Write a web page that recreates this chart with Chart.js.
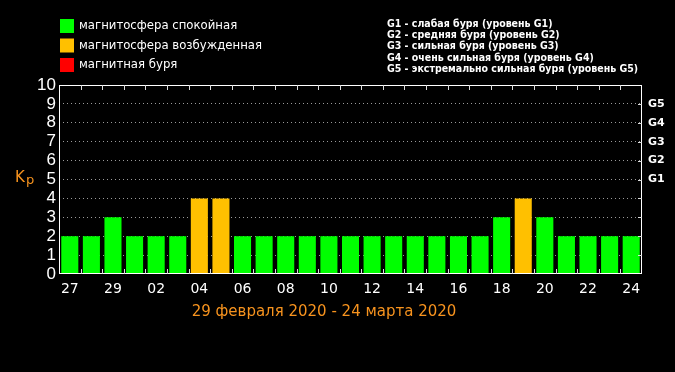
<!DOCTYPE html>
<html>
<head>
<meta charset="utf-8">
<script src="https://cdn.jsdelivr.net/npm/chart.js@4/dist/chart.umd.min.js"></script>
<style>
  html, body { margin: 0; padding: 0; background: #000; }
  #wrap { width: 675px; height: 372px; }
</style>
</head>
<body>
<div id="wrap"><canvas id="kpChart" width="675" height="372"></canvas></div>
<script>
// 29 Feb - 24 Mar 2020, daily Kp
var days = ["27", "28", "29", "01", "02", "03", "04", "05", "06", "07", "08", "09", "10", "11",
            "12", "13", "14", "15", "16", "17", "18", "19", "20", "21", "22", "23", "24"];
var kpValues = [2, 2, 3, 2, 2, 2, 4, 4, 2, 2, 2, 2, 2, 2, 2, 2, 2, 2, 2, 2, 3, 4, 3, 2, 2, 2, 2];
var yTicks = [0, 1, 2, 3, 4, 5, 6, 7, 8, 9, 10];
var gLevels = ["G1", "G2", "G3", "G4", "G5"];
var legendLeft = ["магнитосфера спокойная", "магнитосфера возбужденная", "магнитная буря"];
var legendRight = [
    "G1 - слабая буря (уровень G1)",
    "G2 - средняя буря (уровень G2)",
    "G3 - сильная буря (уровень G3)",
    "G4 - очень сильная буря (уровень G4)",
    "G5 - экстремально сильная буря (уровень G5)"
];
var title = "29 февраля 2020 - 24 марта 2020";

var GREEN = "#00ff00", YELLOW = "#ffc000", RED = "#ff0000", ORANGE = "#f7931e";
var legendColors = [GREEN, YELLOW, RED];

function kpColor(v) {
    if (v >= 5) return RED;
    if (v >= 4) return YELLOW;
    return GREEN;
}

var decor = {
    id: "decor",
    afterDraw: function (chart) {
        var ctx = chart.ctx;
        var a = chart.chartArea;
        var xs = chart.scales.x, ys = chart.scales.y;
        ctx.save();

        // frame
        ctx.strokeStyle = "#ffffff";
        ctx.lineWidth = 1;
        ctx.strokeRect(Math.round(a.left) + 0.5, Math.round(a.top) + 0.5,
            Math.round(a.right - a.left) - 1, Math.round(a.bottom - a.top) - 1);

        // inward ticks on top and bottom at category boundaries
        var step = (a.right - a.left) / days.length;
        ctx.strokeStyle = "#dddddd";
        ctx.beginPath();
        for (var i = 1; i < days.length; i++) {
            var x = Math.round(xs.getPixelForValue(i) - step / 2) + 0.5;
            ctx.moveTo(x, a.top); ctx.lineTo(x, a.top + 5);
            ctx.moveTo(x, a.bottom); ctx.lineTo(x, a.bottom - 5);
        }
        // inward ticks on right side
        for (var k = 1; k < 10; k++) {
            var y = Math.round(ys.getPixelForValue(k)) + 0.5;
            ctx.moveTo(a.right, y); ctx.lineTo(a.right - 4, y);
        }
        ctx.stroke();

        // G levels on the right
        ctx.fillStyle = "#ffffff";
        ctx.font = "bold 11px 'DejaVu Sans'";
        ctx.textAlign = "left";
        ctx.textBaseline = "middle";
        gLevels.forEach(function (g, j) {
            ctx.fillText(g, a.right + 6, ys.getPixelForValue(5 + j));
        });

        // Kp label
        ctx.fillStyle = ORANGE;
        ctx.font = "15px 'DejaVu Sans'";
        ctx.fillText("K", 15, 178);
        ctx.font = "13px 'DejaVu Sans'";
        ctx.fillText("p", 26, 181);

        // date range
        ctx.font = "15px 'DejaVu Sans'";
        ctx.textAlign = "center";
        ctx.fillText(title, 324, 312);

        // left legend
        ctx.textAlign = "left";
        ctx.font = "13px 'DejaVu Sans Condensed', 'DejaVu Sans'";
        legendLeft.forEach(function (t, j) {
            var y0 = 19 + j * 19.5;
            ctx.fillStyle = legendColors[j];
            ctx.fillRect(60, y0, 14, 14);
            ctx.fillStyle = "#ffffff";
            ctx.fillText(t, 79, y0 + 7);
        });

        // right legend
        ctx.font = "bold 10.5px 'DejaVu Sans Condensed', 'DejaVu Sans'";
        legendRight.forEach(function (t, j) {
            ctx.fillText(t, 387, 24 + j * 11.3);
        });

        ctx.restore();
    }
};

new Chart("kpChart", {
    type: "bar",
    data: {
        labels: days,
        datasets: [{
            data: kpValues,
            backgroundColor: kpValues.map(kpColor),
            borderWidth: 0,
            categoryPercentage: 1.0,
            barPercentage: 0.79
        }]
    },
    options: {
        responsive: false,
        animation: false,
        events: [],
        layout: { padding: { left: 0, right: 33, top: 85, bottom: 0 } },
        plugins: {
            legend: { display: false },
            tooltip: { enabled: false }
        },
        scales: {
            x: {
                grid: { display: false, drawTicks: false },
                border: { display: false },
                ticks: {
                    color: "#ffffff",
                    font: { family: "DejaVu Sans", size: 14 },
                    autoSkip: false,
                    maxRotation: 0,
                    padding: 7,
                    callback: function (v, i) { return i % 2 === 0 ? days[i] : ""; }
                },
                afterFit: function (s) { s.height = 98; }
            },
            y: {
                min: 0,
                max: 10,
                afterBuildTicks: function (s) { s.ticks = yTicks.map(function (v) { return { value: v }; }); },
                grid: {
                    color: function (c) { return (c.tick.value > 0 && c.tick.value < 10) ? "#9a9a9a" : "rgba(0,0,0,0)"; },
                    drawTicks: false
                },
                border: { display: false, dash: [1, 3] },
                ticks: {
                    color: "#ffffff",
                    font: { family: "Liberation Sans", size: 17 },
                    padding: 3,
                    autoSkip: false
                },
                afterFit: function (s) { s.width = 59; }
            }
        }
    },
    plugins: [decor]
});
</script>
</body>
</html>
